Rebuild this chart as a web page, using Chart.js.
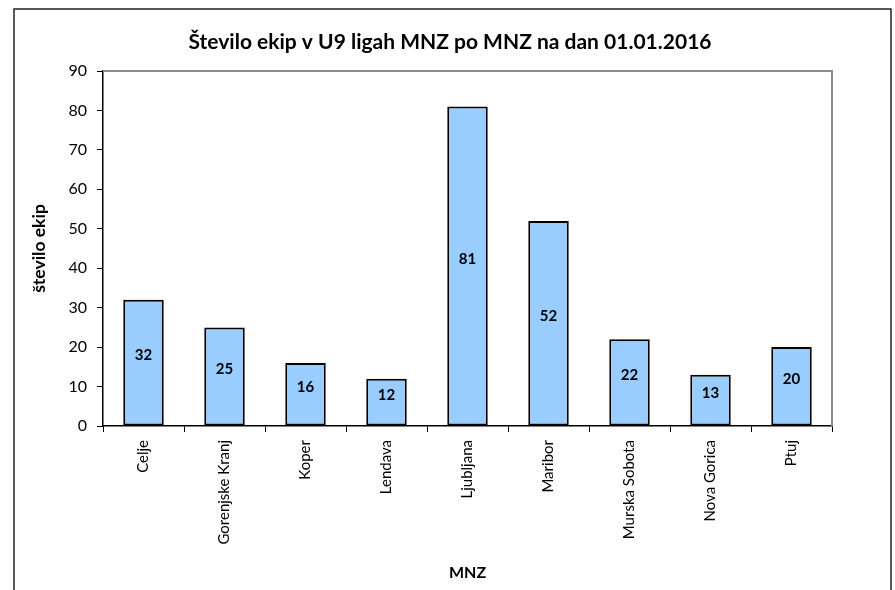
<!DOCTYPE html>
<html>
<head>
<meta charset="utf-8">
<script src="https://cdn.jsdelivr.net/npm/chart.js@4"></script>
<style>
html,body{margin:0;padding:0;background:#fff;}
#wrap{width:895px;height:590px;position:relative;}
</style>
</head>
<body>
<div id="wrap"><canvas id="c"></canvas></div>
<script>
const categories = ["Celje","Gorenjske Kranj","Koper","Lendava","Ljubljana","Maribor","Murska Sobota","Nova Gorica","Ptuj"];
const teams = [32,25,16,12,81,52,22,13,20];
const yTicks = [0,10,20,30,40,50,60,70,80,90];
const chartTitle = "Število ekip v U9 ligah MNZ po MNZ na dan 01.01.2016";
const yTitle = "število ekip";
const xTitle = "MNZ";

const FONT = "Lato, 'Open Sans', sans-serif";

const framePlugin = {
  id: 'frame',
  beforeDraw(chart) {
    const ctx = chart.ctx;
    ctx.save();
    ctx.fillStyle = '#fff';
    ctx.fillRect(0, 0, chart.width, chart.height);
    ctx.strokeStyle = '#222';
    ctx.lineWidth = 1.5;
    ctx.strokeRect(14, 9, 877, 600);
    ctx.fillStyle = '#000';
    ctx.font = "bold 21px " + FONT;
    ctx.textAlign = 'center';
    ctx.textBaseline = 'middle';
    ctx.fillText(chartTitle, 450, 42);
    ctx.restore();
  },
  afterDatasetsDraw(chart) {
    const ctx = chart.ctx;
    const a = chart.chartArea;
    ctx.save();
    ctx.strokeStyle = '#8c8c8c';
    ctx.lineWidth = 2;
    ctx.beginPath();
    ctx.moveTo(a.left, a.top);
    ctx.lineTo(a.right, a.top);
    ctx.lineTo(a.right, a.bottom);
    ctx.stroke();
    // value labels
    const meta = chart.getDatasetMeta(0);
    ctx.fillStyle = '#000';
    ctx.font = "bold 15px " + FONT;
    ctx.textAlign = 'center';
    ctx.textBaseline = 'middle';
    meta.data.forEach((bar, i) => {
      const p = bar.getProps(['x','y','base'], true);
      ctx.fillText(String(teams[i]), p.x, (p.y + p.base) / 2 - 7);
    });
    ctx.restore();
  }
};

new Chart(document.getElementById('c'), {
  type: 'bar',
  data: {
    labels: categories,
    datasets: [{
      data: teams,
      backgroundColor: '#99ccff',
      borderColor: '#000',
      borderWidth: 2,
      borderSkipped: false,
      categoryPercentage: 1,
      barPercentage: 0.5
    }]
  },
  options: {
    responsive: true,
    maintainAspectRatio: false,
    animation: false,
    devicePixelRatio: 1,
    layout: { padding: { left: 0, right: 63, top: 71, bottom: 0 } },
    plugins: {
      legend: { display: false },
      tooltip: { enabled: false },
      title: { display: false }
    },
    scales: {
      x: {
        grid: { display: true, drawOnChartArea: false, tickLength: 6, color: '#000', offset: true },
        border: { display: true, color: '#000', width: 1.5 },
        ticks: {
          color: '#000',
          font: { family: FONT, size: 15 },
          minRotation: 90, maxRotation: 90,
          padding: 8,
          autoSkip: false
        },
        title: {
          display: true, text: xTitle, color: '#000',
          font: { family: FONT, size: 16, weight: 'bold' },
          padding: { top: 0, bottom: 8 }
        },
        afterFit(scale) { scale.height = 590 - 426; }
      },
      y: {
        min: 0, max: 90,
        afterBuildTicks(scale) { scale.ticks = yTicks.map(v => ({ value: v })); },
        grid: { display: true, drawOnChartArea: false, tickLength: 6, color: '#000' },
        border: { display: true, color: '#000', width: 1.5 },
        ticks: {
          color: '#000',
          font: { family: FONT, size: 16 },
          padding: 10
        },
        title: {
          display: true, text: yTitle, color: '#000',
          font: { family: FONT, size: 17.5, weight: 'bold' },
          padding: { top: 29, bottom: 0 }
        },
        afterFit(scale) { scale.width = 103; }
      }
    }
  },
  plugins: [framePlugin]
});
</script>
</body>
</html>
